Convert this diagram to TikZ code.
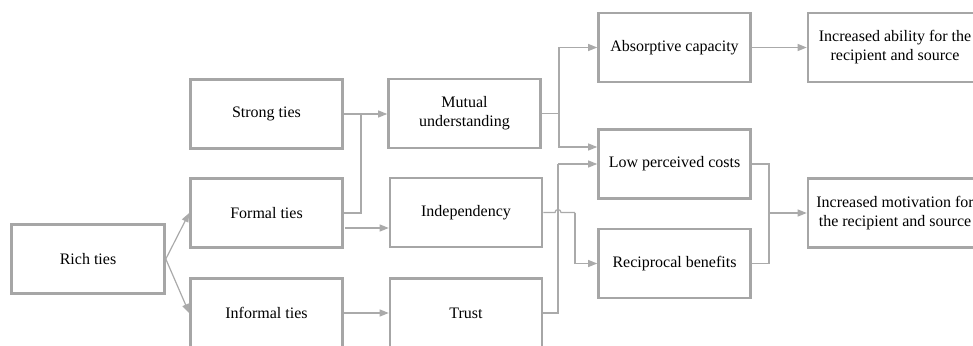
\documentclass[tikz,border=0pt]{standalone}
\usepackage{fontspec}
\setmainfont{Liberation Serif}
\newfontfamily\boxfont{Liberation Serif}
\usetikzlibrary{arrows.meta,calc}
\definecolor{boxgray}{RGB}{166,166,166}
\definecolor{linegray}{RGB}{170,170,170}
\tikzset{
  box/.style={draw=boxgray, line width=2.6pt, minimum width=152pt, minimum height=69pt,
    align=center, inner sep=2pt, font=\boxfont\fontsize{16}{19}\selectfont},
  widebox/.style={box, minimum width=174pt},
  link/.style={draw=linegray, line width=1.2pt},
  arrowlink/.style={link, -{Triangle[length=9pt,width=7pt]}},
}
\begin{document}
\begin{tikzpicture}[x=1pt,y=-1pt]
\useasboundingbox (0,0) rectangle (973,345);
\clip (0,0) rectangle (973,345);

% boxes
\node[box, minimum width=153pt] (rich) at (88,259) {Rich ties};
\node[box] (strong)   at (266.5,114) {Strong ties};
\node[box] (formal)   at (266.5,213) {Formal ties};
\node[box] (informal) at (266.5,313) {Informal ties};
\node[box] (mutual)   at (464.5,113.5) {Mutual\\understanding};
\node[box] (indep)    at (466,212.5) {Independency};
\node[box] (trust)    at (466,313) {Trust};
\node[box] (absorp)   at (674.5,47.5) {Absorptive capacity};
\node[box] (lowcost)  at (674.5,164) {Low perceived costs};
\node[box] (recip)    at (674.5,263.5) {Reciprocal benefits};
\node[widebox] (ability) at (895,47.5) {Increased ability for the\\recipient and source};
\node[widebox] (motiv)   at (895,213) {Increased motivation for\\the recipient and source};

% junction points
\coordinate (jmu) at (361,114);
\coordinate (fout) at (345,228);
\coordinate (jab) at (559,113.5);
\coordinate (jtr) at (558,164);
\coordinate (hopL) at (555,212.5);
\coordinate (hopR) at (561,212.5);
\coordinate (jre) at (575,212.5);
\coordinate (jlc) at (559,147);
\coordinate (jmo) at (769,213);

% rich ties branch out
\draw[arrowlink] (rich.east) -- (formal.west);
\draw[arrowlink] (rich.east) -- (informal.west);

% ties to mechanisms
\draw[arrowlink] (strong.east) -- (strong.east -| mutual.west);
\draw[link] (formal.east) -| (jmu);
\draw[arrowlink] (fout) -- (fout -| indep.west);
\draw[arrowlink] (informal.east) -- (informal.east -| trust.west);

% mechanisms to outcomes
\draw[link] (mutual.east) -- (jab);
\draw[arrowlink] (jab) |- (absorp.west);
\draw[arrowlink] (jab) -- (jlc) -- (jlc -| lowcost.west);
\draw[link] (trust.east) -| (jtr);
\draw[arrowlink] (jtr) -- (lowcost.west);
\draw[link] (indep.east) -- (hopL) arc[start angle=180, end angle=360, radius=3] -- (jre);
\draw[arrowlink] (jre) |- (recip.west);

% outcomes to results
\draw[arrowlink] (absorp.east) -- (ability.west);
\draw[link] (lowcost.east) -| (jmo);
\draw[link] (recip.east) -| (jmo);
\draw[arrowlink] (jmo) -- (motiv.west);
\end{tikzpicture}
\end{document}
